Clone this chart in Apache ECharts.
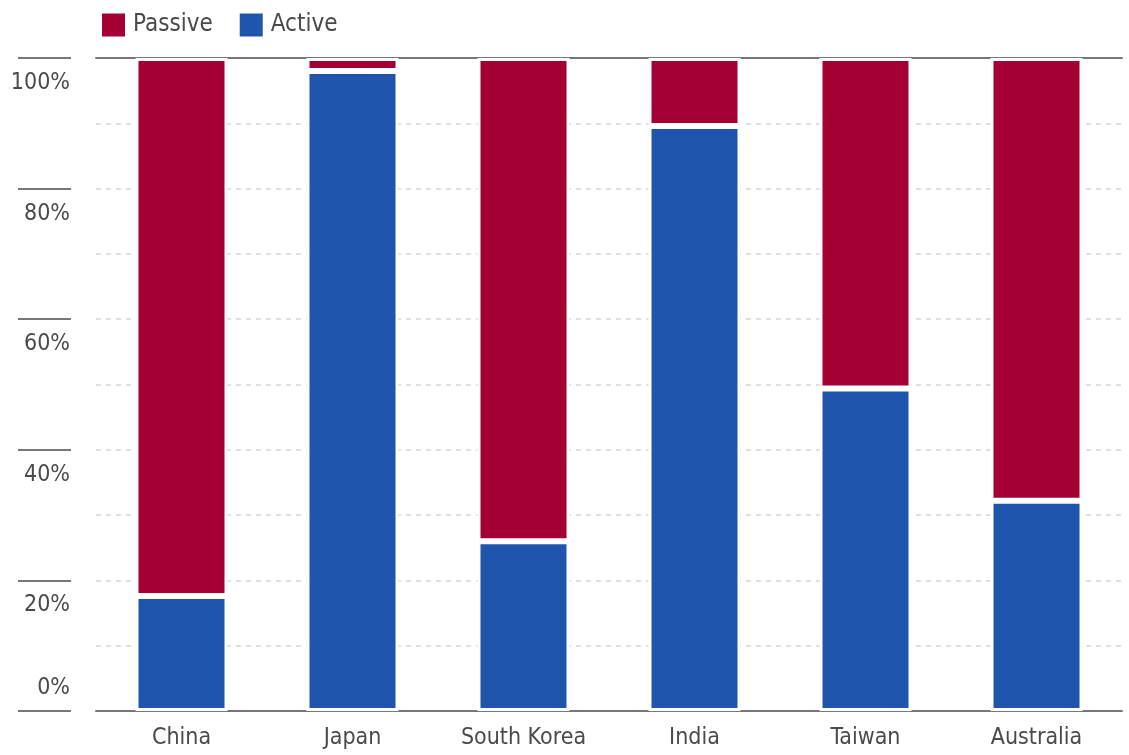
<!DOCTYPE html>
<html>
<head>
<meta charset="utf-8">
<script src="https://cdn.jsdelivr.net/npm/echarts@6/dist/echarts.min.js"></script>
<style>
html, body { margin: 0; padding: 0; background: #fff; }
#chart { width: 1129px; height: 755px; }
</style>
</head>
<body>
<div id="chart"></div>
<script>
var countries = ['China', 'Japan', 'South Korea', 'India', 'Taiwan', 'Australia'];
var activeShare = [17.6, 98.0, 26.0, 89.6, 49.4, 32.2];
var passiveShare = [82.4, 2.0, 74.0, 10.4, 50.6, 67.8];
var tickLabels = ['0%', '20%', '40%', '60%', '80%', '100%'];

var font = "'Liberation Sans Narrow', 'DejaVu Sans Condensed', sans-serif";
var txt = '#4a4a4a';

var myChart = echarts.init(document.getElementById('chart'));
var option = {
	animation: false,
	textStyle: { fontFamily: font },
	color: ['#a50034', '#1f55ad'],
	legend: {
		left: 97,
		top: 8,
		itemWidth: 23,
		itemHeight: 23,
		itemGap: 27,
		icon: 'rect',
		itemStyle: { borderWidth: 0 },
		textStyle: { fontFamily: font, fontSize: 24, color: txt, padding: [0, 0, 0, 3] },
		data: ['Passive', 'Active']
	},
	grid: { left: 96, right: 7, top: 58, bottom: 44 },
	xAxis: [{
		type: 'category',
		data: countries,
		axisLine: { lineStyle: { color: '#777', width: 2 } },
		axisTick: { show: false },
		axisLabel: { fontFamily: font, fontSize: 23, color: txt, margin: 16 }
	}, {
		// solid line along 100%
		type: 'category',
		position: 'top',
		data: countries,
		axisLine: { onZero: false, lineStyle: { color: '#777', width: 2 } },
		axisTick: { show: false },
		axisLabel: { show: false }
	}],
	yAxis: [{
		type: 'value',
		min: 0,
		max: 100,
		interval: 10,
		axisLine: { show: false },
		axisTick: { show: false },
		axisLabel: { show: false },
		splitLine: { lineStyle: { color: '#d6d6d6', type: [5, 5], width: 1.5 } }
	}, {
		type: 'value',
		position: 'left',
		offset: 25,
		min: 0,
		max: 100,
		interval: 20,
		axisLine: { show: false },
		splitLine: { show: false },
		axisTick: { show: true, length: 53, lineStyle: { color: '#777', width: 2 } },
		axisLabel: {
			margin: 1,
			formatter: function(v) {
				var s = tickLabels[v / 20];
				return v === 0 ? '{z|' + s + '}' : '{a|' + s + '}';
			},
			rich: {
				a: { fontFamily: font, fontSize: 23, color: txt, padding: [50, 0, 0, 0] },
				z: { fontFamily: font, fontSize: 23, color: txt, padding: [0, 0, 46, 0] }
			}
		}
	}],
	series: [{
		name: 'Active',
		type: 'bar',
		stack: 'share',
		barWidth: 92,
		itemStyle: { color: '#1f55ad', borderColor: '#fff', borderWidth: 3 },
		data: activeShare
	}, {
		name: 'Passive',
		type: 'bar',
		stack: 'share',
		barWidth: 92,
		itemStyle: { color: '#a50034', borderColor: '#fff', borderWidth: 3 },
		data: passiveShare
	}]
};
myChart.setOption(option);
</script>
</body>
</html>
